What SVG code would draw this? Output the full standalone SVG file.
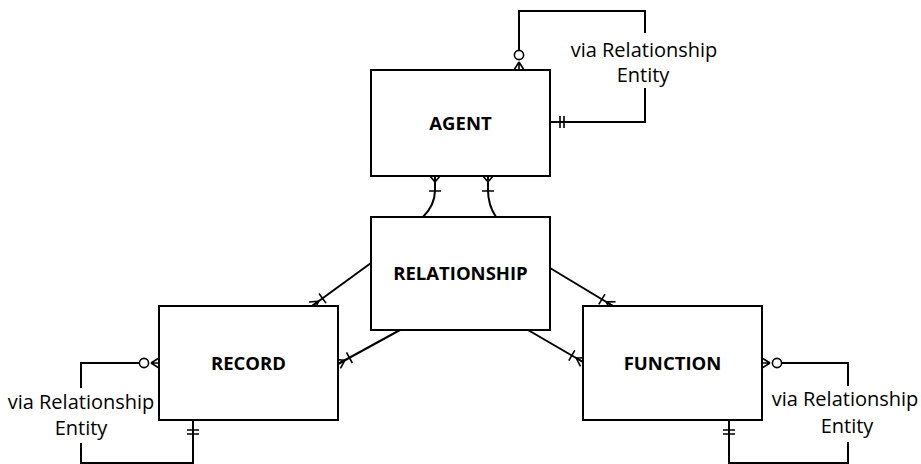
<svg xmlns="http://www.w3.org/2000/svg" width="921" height="464" viewBox="0 0 921 464">
<style>
.box{fill:#fff;stroke:#000;stroke-width:2}
.ln{fill:none;stroke:#000;stroke-width:2}
.mk{fill:none;stroke:#000;stroke-width:1.6}
.circ{fill:#fff;stroke:#000;stroke-width:1.6}
.lbl{font-family:"Open Sans","Liberation Sans",sans-serif;font-weight:bold;font-size:18.5px;fill:#000;text-anchor:middle}
.note{font-family:"Open Sans","Liberation Sans",sans-serif;font-size:20px;fill:#000;text-anchor:middle}
</style>
<rect width="921" height="464" fill="#fff"/>
<g id="connectors">
  <!-- AGENT self loop -->
  <path class="ln" d="M519,50 V11 H645 V33 M645,88 V122 H551"/>
  <circle class="circ" cx="519" cy="55" r="4.6"/>
  <path class="mk" d="M519,62 L514,70 M519,62 L519,70 M519,62 L524,70"/>
  <path class="mk" d="M560,116 V128 M564,116 V128"/>
  <!-- AGENT - RELATIONSHIP -->
  <path class="ln" d="M435,176 L435,190 Q435,205 423,217"/>
  <path class="mk" d="M435,182 L430,176 M435,182 L435,176 M435,182 L440,176 M429,191 H441"/>
  <path class="ln" d="M488,176 L488,190 Q488,205 496,217"/>
  <path class="mk" d="M488,182 L483,176 M488,182 L488,176 M488,182 L493,176 M482,191 H494"/>
  <!-- RELATIONSHIP - RECORD (top) -->
  <path class="ln" d="M371,263 L312,306"/>
  <path class="mk" d="M318.5,301.3 L314.9,310 M318.5,301.3 L312,306 M318.5,301.3 L309.1,302 M326,303.1 L319,293.5"/>
  <!-- RELATIONSHIP - RECORD (right) -->
  <path class="ln" d="M400,330 L338,364"/>
  <path class="mk" d="M345,360.2 L340.4,368.4 M345,360.2 L338,364 M345,360.2 L335.6,359.6 M352.3,363 L346.5,352.4"/>
  <!-- RELATIONSHIP - FUNCTION (top) -->
  <path class="ln" d="M550,268 L613,306"/>
  <path class="mk" d="M606.2,301.9 L615.6,301.7 M606.2,301.9 L613,306 M606.2,301.9 L610.4,310.3 M605,294.2 L598.8,304.4"/>
  <!-- RELATIONSHIP - FUNCTION (left) -->
  <path class="ln" d="M528,330 L583,362"/>
  <path class="mk" d="M576.1,358 L585.5,357.7 M576.1,358 L583,362 M576.1,358 L580.5,366.3 M574.8,350.3 L568.8,360.7"/>
  <!-- RECORD self loop -->
  <path class="ln" d="M139,363 H81 V388 M81,443 V463 H193 V421"/>
  <circle class="circ" cx="144" cy="363" r="4.6"/>
  <path class="mk" d="M151,363 L159,358 M151,363 L159,363 M151,363 L159,368"/>
  <path class="mk" d="M187,430 H199 M187,434 H199"/>
  <!-- FUNCTION self loop -->
  <path class="ln" d="M782,363 H848 V386 M848,442 V463 H729 V421"/>
  <circle class="circ" cx="777" cy="363" r="4.6"/>
  <path class="mk" d="M770,363 L762,358 M770,363 L762,363 M770,363 L762,368"/>
  <path class="mk" d="M723,430 H735 M723,434 H735"/>
</g>
<g id="agent">
  <rect class="box" x="371" y="70" width="179" height="106"/>
  <text class="lbl" x="460.5" y="130">AGENT</text>
</g>
<g id="relationship">
  <rect class="box" x="371" y="217" width="179" height="113"/>
  <text class="lbl" x="460.5" y="280">RELATIONSHIP</text>
</g>
<g id="record">
  <rect class="box" x="159" y="306" width="179" height="114"/>
  <text class="lbl" x="248.5" y="370">RECORD</text>
</g>
<g id="function">
  <rect class="box" x="583" y="306" width="179" height="114"/>
  <text class="lbl" x="672.5" y="370">FUNCTION</text>
</g>
<g id="notes">
  <text class="note" x="644" y="56.5">via Relationship</text>
  <text class="note" x="643" y="82">Entity</text>
  <text class="note" x="81" y="409">via Relationship</text>
  <text class="note" x="81" y="435">Entity</text>
  <text class="note" x="845" y="406">via Relationship</text>
  <text class="note" x="847" y="433">Entity</text>
</g>
</svg>
